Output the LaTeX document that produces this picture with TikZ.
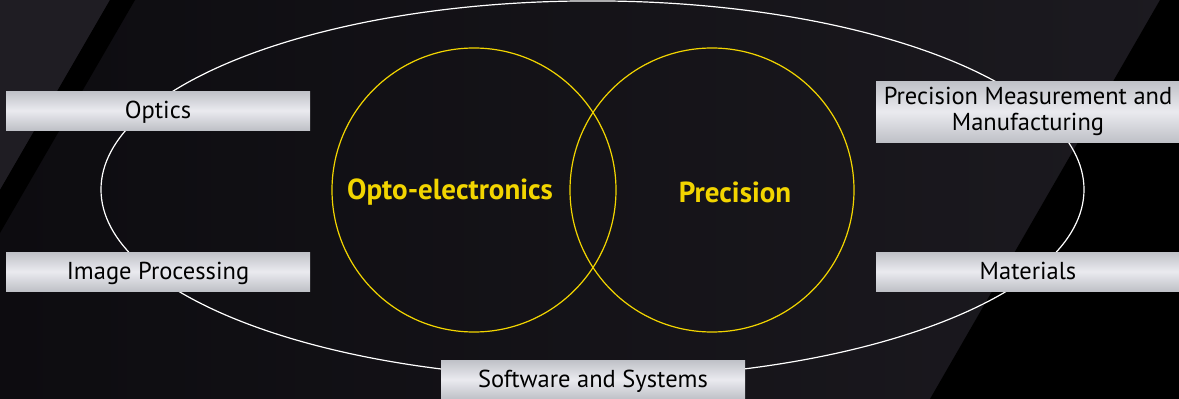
\documentclass[tikz,border=0pt]{standalone}
\usepackage{fontspec}
\setmainfont{PT Sans}
\definecolor{bgdark}{HTML}{1C1A20}
\definecolor{bgdeep}{HTML}{0D0C10}
\definecolor{bgcorner}{HTML}{1F1D23}
\definecolor{boxgray}{HTML}{BFC1C7}
\definecolor{boxlight}{HTML}{EAEAEF}
\definecolor{ringyellow}{HTML}{F2D500}
\begin{document}
\begin{tikzpicture}[x=1pt, y=-1pt,
  tagbox/.style={inner sep=0pt, minimum width=304pt, minimum height=39pt,
    top color=boxgray, bottom color=boxgray, middle color=boxlight,
    text=black, align=center, font=\fontsize{24.5}{26}\selectfont},
  oneline/.style={text height=20pt, text depth=4pt},
  ring/.style={circle, draw=ringyellow, line width=1.2pt, minimum size=284pt, inner sep=0pt},
  ringlabel/.style={text=ringyellow, font=\bfseries\fontsize{29}{32}\selectfont}]
  \useasboundingbox (0,0) rectangle (1179,399);
  % background
  \shade[left color=bgdeep, right color=bgdark] (0,0) rectangle (1179,399);
  \fill[bgcorner] (0,0) -- (110,0) -- (0,190) -- cycle;
  \fill[black] (110,0) -- (135,0) -- (0,233) -- (0,190) -- cycle;
  \fill[black] (1160,0) -- (1179,0) -- (1179,399) -- (930,399) -- cycle;
  % outer ellipse and the two rings
  \draw[white, line width=1.2pt] (592.5,189.5) ellipse [x radius=491.5, y radius=188.6];
  \node[ring] (opto) at (474,190) {};
  \node[ring] (prec) at (712,190) {};
  \node[ringlabel] (optolabel) at (450,192.5) {Opto-electronics};
  \node[ringlabel] (preclabel) at (735,192.5) {Precision};
  % the five fields
  \node[tagbox, oneline] (optics) at (158,110.5) {Optics};
  \node[tagbox, oneline] (image) at (158,271.5) {Image Processing};
  \node[tagbox, minimum height=61pt] (measure) at (1028,111.5) {Precision Measurement and\\Manufacturing};
  \node[tagbox, oneline] (materials) at (1028,271.5) {Materials};
  \node[tagbox, oneline] (software) at (593,379.5) {Software and Systems};
\end{tikzpicture}
\end{document}
